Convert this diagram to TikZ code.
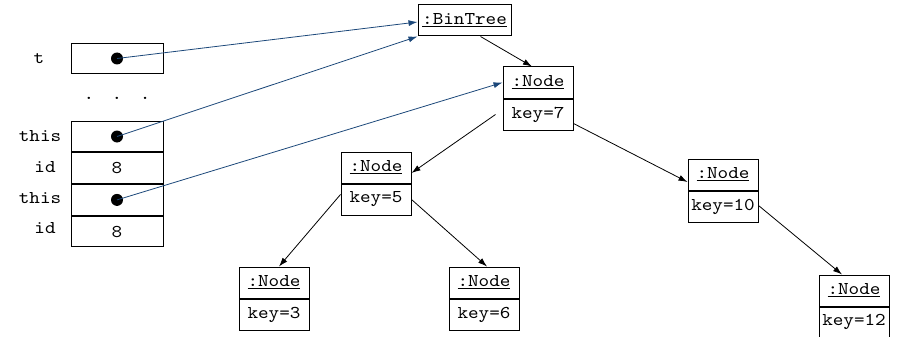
\documentclass[tikz,border=0pt]{standalone}
\usepackage{fontspec}
\setmonofont{lmmono10-regular.otf}[FakeStretch=1.12]
\usetikzlibrary{arrows.meta,calc}
\definecolor{refblue}{RGB}{28,72,122}
\begin{document}
\begin{tikzpicture}[x=1pt,y=-1pt,
  txt/.style={font=\ttfamily\fontsize{18}{20}\selectfont, inner sep=0pt},
  cell/.style={draw, line width=1pt, minimum width=92pt, minimum height=30.7pt, inner sep=0pt, font=\ttfamily\fontsize{18}{20}\selectfont},
  obj/.style={draw, line width=1pt, minimum width=70pt, minimum height=31pt, inner sep=0pt, font=\ttfamily\fontsize{18}{20}\selectfont},
  ptr/.style={refblue, line width=0.8pt, -{Latex[length=9pt,width=6pt]}},
  lnk/.style={black, line width=0.8pt, -{Latex[length=9pt,width=6pt]}},
  dotc/.style={circle, fill=black, inner sep=0pt, minimum size=12pt}
]
\useasboundingbox (0,0) rectangle (899,337);
% left stack
\node[cell] (tbox) at (117,58.5) {};
\node[cell] (this1) at (117,136.5) {};
\node[cell, anchor=north] (id1) at (this1.south) {8};
\node[cell, anchor=north] (this2) at (id1.south) {};
\node[cell, anchor=north] (id2) at (this2.south) {8};
\node[dotc] (dt) at (tbox.center) {};
\node[dotc] (d1) at (this1.center) {};
\node[dotc] (d2) at (this2.center) {};
\node[txt] (lt) at (39,58.5) {t};
\node[txt] (lthis1) at (40,136.5) {this};
\node[txt] (lid1) at (45,167.5) {id};
\node[txt] (lthis2) at (40,198) {this};
\node[txt] (lid2) at (45,228.5) {id};
\node[txt, anchor=base] (dots) at (117,99) {.\hspace{17.5pt}.\hspace{17.5pt}.};
% objects
\node[obj, minimum width=93pt] (bt) at (464.5,20.5) {\underline{:BinTree}};
\node[obj] (n7t) at (538,82.5) {\underline{:Node}};
\node[obj, anchor=north] (n7b) at (n7t.south) {key=7};
\node[obj] (n5t) at (376,167.5) {\underline{:Node}};
\node[obj, anchor=north] (n5b) at (n5t.south) {key=5};
\node[obj] (n3t) at (274,282.5) {\underline{:Node}};
\node[obj, anchor=north] (n3b) at (n3t.south) {key=3};
\node[obj] (n6t) at (484,282.5) {\underline{:Node}};
\node[obj, anchor=north] (n6b) at (n6t.south) {key=6};
\node[obj] (n10t) at (723,174.5) {\underline{:Node}};
\node[obj, anchor=north] (n10b) at (n10t.south) {key=10};
\node[obj] (n12t) at (854,290.5) {\underline{:Node}};
\node[obj, anchor=north, minimum height=30pt] (n12b) at (n12t.south) {key=12};
% pointers
\draw[ptr] (dt.center) -- ([yshift=-1.5pt]bt.west);
\draw[ptr] (d1.center) -- (bt.south west);
\draw[ptr] (d2.center) -- (n7t.west);
% tree links
\coordinate (s7l) at ([xshift=-7pt]n7b.west);
\draw[lnk] ([xshift=16pt]bt.south) -- ([xshift=-6pt]n7t.north);
\draw[lnk] (s7l) -- ([yshift=-5.5pt]n5t.east);
\draw[lnk] ([yshift=-9pt]n7b.east) -- ([yshift=-7.5pt]n10t.west);
\draw[lnk] ([yshift=5pt]n5b.west) -- ([xshift=5pt]n3t.north);
\draw[lnk] ([yshift=-0pt]n5b.east) -- ([xshift=3pt]n6t.north);
\draw[lnk] ([yshift=1pt]n10b.east) -- ([xshift=-12pt]n12t.north);
\end{tikzpicture}
\end{document}
